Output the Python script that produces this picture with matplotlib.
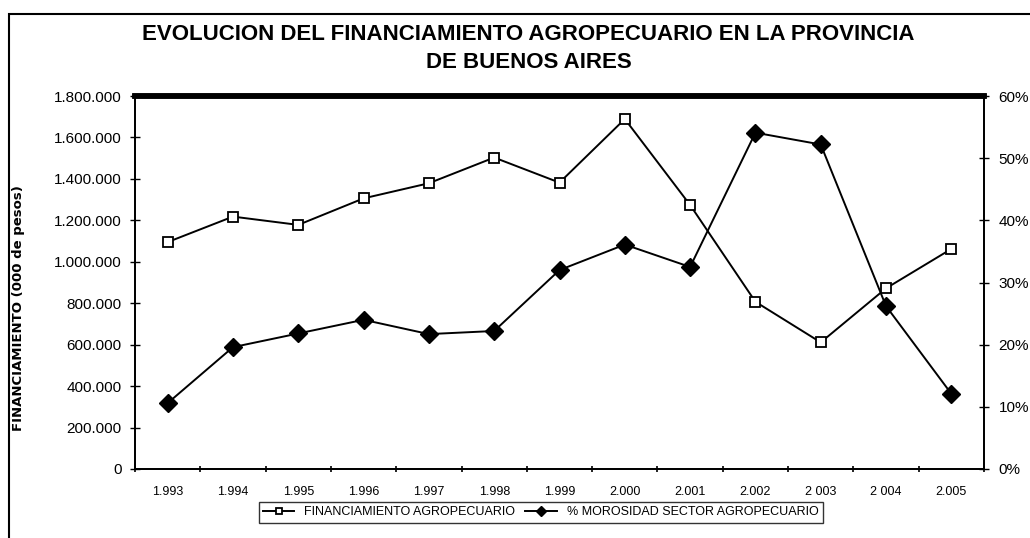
import numpy as np
import matplotlib
matplotlib.use("Agg")
import matplotlib.pyplot as plt
from matplotlib.ticker import FuncFormatter, FixedLocator
from matplotlib.patches import Rectangle

plt.rcParams["font.family"] = ["Liberation Sans", "DejaVu Sans"]

# data
years = ["1.993", "1.994", "1.995", "1.996", "1.997", "1.998", "1.999",
         "2.000", "2.001", "2.002", "2 003", "2 004", "2.005"]
financiamiento = [1095000, 1218000, 1178000, 1306000, 1379000, 1503000, 1382000,
                  1689000, 1274000, 807000, 611000, 872000, 1062000]
morosidad = [10.6, 19.6, 21.8, 24.0, 21.7, 22.2, 32.0,
             36.1, 32.5, 54.1, 52.2, 26.2, 12.1]
left_ticks = [0, 200000, 400000, 600000, 800000, 1000000, 1200000,
              1400000, 1600000, 1800000]
right_ticks = [0, 10, 20, 30, 40, 50, 60]


def miles(v, pos):
    return f"{int(v):,}".replace(",", ".")


fig = plt.figure(figsize=(10.30, 5.38), dpi=100)
ax = fig.add_axes([135 / 1030, 69 / 538, 849 / 1030, 373 / 538])
x = np.arange(len(years))

l1, = ax.plot(x, financiamiento, "-s", color="black", lw=1.4, ms=6.5,
              mfc="white", mec="black", mew=1.3,
              label="FINANCIAMIENTO AGROPECUARIO")
ax.set_xlim(-0.5, len(years) - 0.5)
ax.set_ylim(0, 1800000)
ax.yaxis.set_major_locator(FixedLocator(left_ticks))
ax.yaxis.set_major_formatter(FuncFormatter(miles))
ax.set_xticks(x)
ax.set_xticklabels(years, fontsize=9)
ax.set_xticks(np.arange(-0.5, len(years)), minor=True)
ax.tick_params(axis="x", which="major", length=0, pad=12)
ax.tick_params(axis="x", which="minor", length=5, direction="inout", width=1.2)
ax.tick_params(axis="y", labelsize=11, direction="inout", length=7, width=1,
               pad=6)

fig.text(19 / 1030, 0.4275, "FINANCIAMIENTO (000 de pesos)", rotation=90,
         ha="center", va="center", fontsize=9.5, fontweight="bold",
         family="DejaVu Sans")

ax2 = ax.twinx()
l2, = ax2.plot(x, morosidad, "-D", color="black", lw=1.4, ms=9,
               mfc="black", mec="black",
               label="% MOROSIDAD SECTOR AGROPECUARIO")
ax2.set_ylim(0, 60)
ax2.yaxis.set_major_locator(FixedLocator(right_ticks))
ax2.yaxis.set_major_formatter(FuncFormatter(lambda v, p: f"{int(v)}%"))
ax2.tick_params(axis="y", labelsize=11, direction="inout", length=7, width=1,
                pad=7)

for a in (ax, ax2):
    for s in a.spines.values():
        s.set_linewidth(1.3)
    a.spines["top"].set_linewidth(4)

fig.text(0.513, 0.91, "EVOLUCION DEL FINANCIAMIENTO AGROPECUARIO EN LA PROVINCIA\n"
         "DE BUENOS AIRES", ha="center", va="center", fontsize=16,
         fontweight="bold", linespacing=1.4)

leg = fig.legend(handles=[l1, l2], loc="center", bbox_to_anchor=(0.525, 0.048),
                 ncol=2, fontsize=9, frameon=True, fancybox=False,
                 handlelength=2.5, columnspacing=0.8, borderpad=0.35,
                 markerscale=0.6)
leg.get_frame().set_edgecolor("black")
leg.get_frame().set_linewidth(1)

# outer frame of the scanned chart
fig.patches.append(Rectangle((9 / 1030, -0.05), 1.1, (538 - 14) / 538 + 0.05,
                             transform=fig.transFigure, fill=False,
                             edgecolor="black", lw=1.5))

fig.savefig("out.png", dpi=100)
